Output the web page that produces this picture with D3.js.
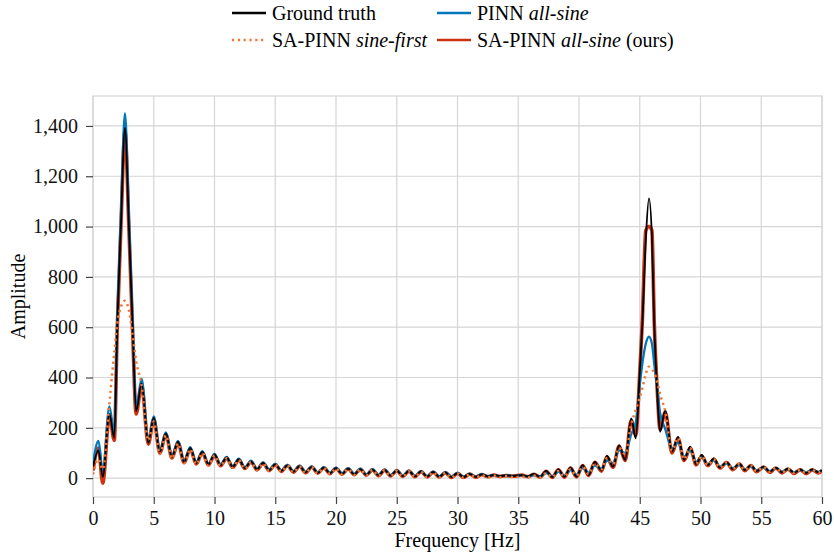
<!DOCTYPE html>
<html>
<head>
<meta charset="utf-8">
<script src="https://cdn.jsdelivr.net/npm/d3@7"></script>
<style>
  body { margin: 0; background: #fff; }
</style>
</head>
<body>
<div id="chart"></div>
<script>
const serif = "'Liberation Serif'";

// frequency points [Hz]
const freq = [0, 0.45, 0.8, 1.35, 1.75, 2.0, 2.3, 2.63, 2.95, 3.25, 3.55, 4.0, 4.55,
  5.0, 5.5, 6.0, 6.5, 7.0, 7.5, 8.0, 8.5, 9.0, 9.5, 10.0, 10.5, 11.0, 11.5, 12.0, 12.5,
  13.0, 13.5, 14.0, 14.5, 15.0, 15.5, 16.0, 16.5, 17.0, 17.5, 18.0, 18.5, 19.0, 19.5,
  20.0, 20.5, 21.0, 21.5, 22.0, 22.5, 23.0, 23.5, 24.0, 24.5, 25.0, 25.5, 26.0, 26.5,
  27.0, 27.5, 28.0, 28.5, 29.0, 29.5, 30.0, 30.5, 31.0, 31.5, 32.0, 32.5, 33.0, 33.5, 34.0,
  34.6, 35.3, 35.8,
  36.3, 36.8, 37.3, 37.8, 38.3, 38.8, 39.3, 39.8, 40.3, 40.8, 41.3, 41.85, 42.3, 42.8, 43.3, 43.8, 44.3,
  44.67, 45.0, 45.2, 45.5, 45.76, 46.0, 46.2, 46.45, 46.67,
  47.1, 47.65, 48.15, 48.65, 49.15, 49.65, 50.1, 50.6, 51.1, 51.6, 52.15, 52.65, 53.2, 53.65,
  54.15, 54.6, 55.2, 55.7, 56.2, 56.7, 57.2, 57.7, 58.2, 58.7, 59.2, 59.7, 60.0];

// amplitudes
const groundTruth = [45, 110, 5, 255, 160, 616, 1010, 1392, 1010, 616, 265, 378, 140,
  240, 105, 178, 85, 145, 65, 120, 60, 105, 55, 94, 52, 82, 45, 75, 40, 67, 35, 61, 32,
  55, 29, 51, 26, 48, 23, 45, 21, 42, 19, 40, 17, 38, 15, 36, 13, 34, 11, 33, 10, 31, 8,
  29, 7, 27, 6, 25, 5, 23, 4, 20, 4, 17, 5, 15, 7, 13, 8, 11,
  9, 12, 7,
  17, 5, 29, 4, 35, 5, 42, 6, 52, 12, 65, 30, 88, 45, 131, 72, 237,
  158, 420, 598, 950, 1112, 960, 598, 330, 184,
  270, 105, 164, 72, 125, 55, 92, 52, 78, 42, 64, 36, 58, 32, 52, 28, 46, 25, 42, 23,
  38, 21, 35, 20, 35, 23, 32];

const pinnAllSine = [60, 148, 30, 285, 175, 640, 1050, 1450, 1050, 640, 280, 395, 150,
  245, 110, 182, 90, 148, 68, 123, 63, 107, 57, 96, 54, 84, 47, 77, 42, 69, 37, 63, 34,
  57, 31, 53, 28, 50, 25, 47, 23, 44, 21, 42, 19, 40, 17, 38, 15, 36, 13, 34, 12, 32, 10,
  30, 9, 28, 8, 26, 7, 24, 6, 21, 6, 18, 6, 16, 7, 13, 8, 11,
  9, 11, 7,
  12, 7, 20, 8, 26, 10, 32, 14, 40, 22, 50, 38, 70, 60, 110, 100, 175,
  220, 370, 450, 535, 562, 535, 450, 355, 260,
  195, 118, 140, 85, 110, 65, 85, 55, 72, 46, 60, 40, 54, 35, 48, 31, 43, 28, 40, 26,
  36, 24, 33, 23, 33, 25, 31];

const saSineFirst = [15, 75, 35, 300, 500, 615, 681, 705, 668, 575, 465, 370, 150,
  225, 95, 170, 78, 138, 60, 115, 55, 100, 50, 90, 48, 79, 42, 72, 37, 64, 32, 58, 29,
  53, 26, 49, 23, 46, 21, 43, 19, 40, 17, 38, 15, 36, 13, 34, 11, 32, 9, 31, 8, 29, 6,
  27, 5, 25, 4, 23, 3, 21, 2, 18, 2, 15, 3, 12, 3, 10, 4, 8,
  4, 6, 3,
  10, 3, 20, 4, 28, 6, 35, 10, 45, 16, 58, 35, 80, 55, 120, 95, 215,
  270, 320, 355, 415, 443, 432, 418, 380, 335,
  265, 110, 160, 75, 120, 57, 88, 52, 75, 42, 62, 36, 56, 32, 50, 28, 44, 25, 40, 23,
  36, 21, 33, 20, 33, 22, 30];

const saAllSine = [30, 120, -20, 250, 150, 600, 1000, 1380, 1000, 600, 255, 370, 135,
  235, 100, 174, 80, 141, 61, 117, 56, 102, 52, 91, 49, 80, 43, 73, 38, 65, 33, 59, 30,
  54, 27, 50, 24, 47, 22, 44, 20, 41, 18, 39, 16, 37, 14, 35, 12, 33, 10, 32, 9, 30, 7,
  28, 6, 26, 5, 24, 4, 22, 3, 19, 3, 16, 4, 14, 6, 12, 7, 10,
  8, 12, 6,
  15, 4, 27, 3, 33, 4, 40, 5, 50, 11, 63, 28, 85, 43, 127, 70, 230,
  170, 420, 610, 985, 1000, 985, 610, 340, 195,
  262, 100, 158, 70, 120, 53, 88, 50, 75, 40, 62, 34, 56, 30, 50, 26, 44, 23, 40, 21,
  36, 19, 33, 18, 33, 21, 30];

const xTicks = [0, 5, 10, 15, 20, 25, 30, 35, 40, 45, 50, 55, 60];
const yTicks = [0, 200, 400, 600, 800, 1000, 1200, 1400];

const width = 834, height = 556;
const margin = {top: 96, right: 12, bottom: 59, left: 93};

const svg = d3.select("#chart")
  .append("svg")
  .attr("width", width)
  .attr("height", height);

const x = d3.scaleLinear().domain([0, 60]).range([margin.left, width - margin.right]);
const y = d3.scaleLinear().domain([-75, 1519]).range([height - margin.bottom, margin.top]);

// grid
const grid = svg.append("g").attr("stroke", "#d5d5d5").attr("stroke-width", 1.2);
grid.selectAll("line.gx")
  .data(xTicks)
  .enter()
  .append("line")
  .attr("x1", d => x(d)).attr("x2", d => x(d))
  .attr("y1", y.range()[1]).attr("y2", y.range()[0]);
grid.selectAll("line.gy")
  .data(yTicks)
  .enter()
  .append("line")
  .attr("x1", x.range()[0]).attr("x2", x.range()[1])
  .attr("y1", d => y(d)).attr("y2", d => y(d));
svg.append("rect")
  .attr("x", x.range()[0]).attr("y", y.range()[1])
  .attr("width", x.range()[1] - x.range()[0])
  .attr("height", y.range()[0] - y.range()[1])
  .attr("fill", "none")
  .attr("stroke", "#d5d5d5")
  .attr("stroke-width", 1.2);

// axes
const xAxis = svg.append("g")
  .attr("transform", `translate(0,${y.range()[0]})`)
  .call(d3.axisBottom(x).tickValues(xTicks).tickSize(7).tickPadding(7).tickFormat(d3.format("d")));
const yAxis = svg.append("g")
  .attr("transform", `translate(${x.range()[0]},0)`)
  .call(d3.axisLeft(y).tickValues(yTicks).tickSize(7).tickPadding(8).tickFormat(d3.format(",")));
[xAxis, yAxis].forEach(a => {
  a.attr("font-family", null).attr("font-size", null);
  a.select(".domain").remove();
  a.selectAll(".tick line").attr("stroke", "#444").attr("stroke-width", 1.2);
  a.selectAll(".tick text")
    .style("font-family", serif)
    .style("font-size", "20px")
    .attr("fill", "#111");
});

svg.append("text")
  .attr("x", (x.range()[0] + x.range()[1]) / 2)
  .attr("y", 547)
  .attr("text-anchor", "middle")
  .style("font-family", serif)
  .style("font-size", "20px")
  .text("Frequency [Hz]");

svg.append("text")
  .attr("transform", `translate(25,${(y.range()[0] + y.range()[1]) / 2}) rotate(-90)`)
  .attr("text-anchor", "middle")
  .style("font-family", serif)
  .style("font-size", "20px")
  .text("Amplitude");

// curves
svg.append("clipPath").attr("id", "clip")
  .append("rect")
  .attr("x", x.range()[0]).attr("y", y.range()[1])
  .attr("width", x.range()[1] - x.range()[0])
  .attr("height", y.range()[0] - y.range()[1]);

const series = [
  {name: "SA-PINN", em: "all-sine", tail: " (ours)", values: saAllSine, color: "#CC3311", w: 3.6, dash: null},
  {name: "PINN", em: "all-sine", tail: "", values: pinnAllSine, color: "#0077BB", w: 2.3, dash: null},
  {name: "Ground truth", em: "", tail: "", values: groundTruth, color: "#000", w: 1.8, dash: null},
  {name: "SA-PINN", em: "sine-first", tail: "", values: saSineFirst, color: "#EE7733", w: 2.5, dash: "2.2 3.6"}
];

const line = d3.line()
  .x((d, i) => x(freq[i]))
  .y(d => y(d))
  .curve(d3.curveMonotoneX);

svg.append("g")
  .attr("clip-path", "url(#clip)")
  .selectAll("path")
  .data(series)
  .enter()
  .append("path")
  .attr("d", d => line(d.values))
  .attr("fill", "none")
  .attr("stroke", d => d.color)
  .attr("stroke-width", d => d.w)
  .attr("stroke-dasharray", d => d.dash)
  .attr("stroke-linejoin", "round");

// legend
const legendItems = [
  {s: series[2], lx: 232, ty: 13},
  {s: series[1], lx: 437, ty: 13},
  {s: series[3], lx: 232, ty: 40},
  {s: series[0], lx: 437, ty: 40}
];
const legend = svg.selectAll("g.legend")
  .data(legendItems)
  .enter()
  .append("g")
  .attr("class", "legend")
  .attr("transform", d => `translate(${d.lx},${d.ty})`);
legend.append("line")
  .attr("x1", 0).attr("x2", 34)
  .attr("stroke", d => d.s.color)
  .attr("stroke-width", 2.6)
  .attr("stroke-dasharray", d => d.s.dash);
const lt = legend.append("text")
  .attr("x", 40)
  .attr("dy", "0.33em")
  .style("font-family", serif)
  .style("font-size", "20px");
lt.append("tspan").text(d => d.s.name + (d.s.em ? " " : ""));
lt.append("tspan").attr("font-style", "italic").text(d => d.s.em);
lt.append("tspan").text(d => d.s.tail);
</script>
</body>
</html>
